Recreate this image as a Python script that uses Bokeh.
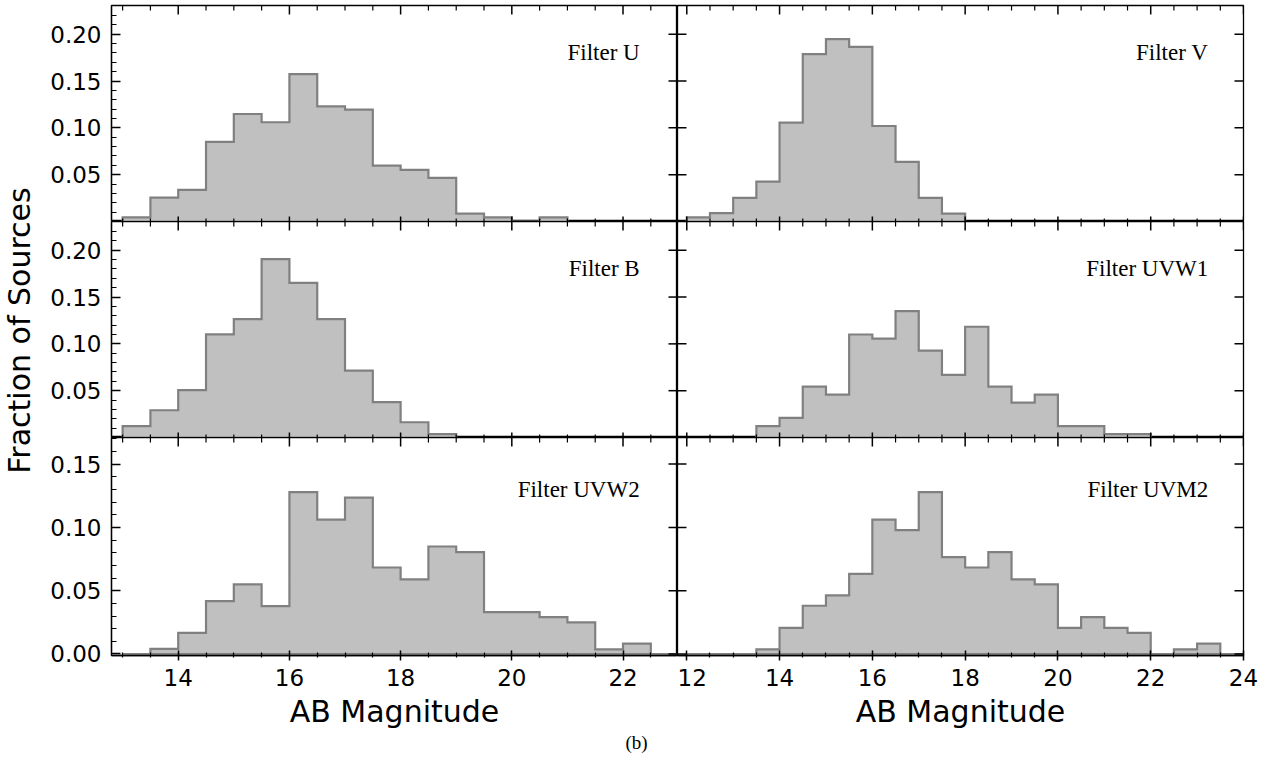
import math
import numpy as np
from bokeh.plotting import figure
from bokeh.layouts import gridplot, row, column
from bokeh.models import Range1d, FixedTicker, PrintfTickFormatter, Label
from bokeh.embed import file_html
from bokeh.resources import INLINE

# ---------------- data (fraction of sources per 0.5 mag bin) ----------------
BIN_WIDTH = 0.5

u_name = "Filter U"
u_first_edge = 13.0
u_frac = [0.0043, 0.0256, 0.0338, 0.085, 0.1148, 0.106, 0.1574, 0.123, 0.1194,
          0.0597, 0.0551, 0.0466, 0.0085, 0.0043, 0.0, 0.0043]

v_name = "Filter V"
v_first_edge = 12.0
v_frac = [0.0043, 0.0089, 0.0252, 0.0426, 0.1055, 0.1787, 0.1947, 0.1866, 0.102,
          0.0636, 0.0252, 0.0085]

b_name = "Filter B"
b_first_edge = 13.0
b_frac = [0.0121, 0.0291, 0.0505, 0.1102, 0.1265, 0.1905, 0.1652, 0.1265, 0.0714,
          0.0377, 0.0163, 0.0036]

uvw1_name = "Filter UVW1"
uvw1_first_edge = 13.5
uvw1_frac = [0.0121, 0.021, 0.0544, 0.0458, 0.110, 0.1055, 0.135, 0.0928, 0.0668,
             0.1183, 0.0544, 0.0373, 0.0458, 0.0121, 0.0121, 0.0036, 0.0036]

uvw2_name = "Filter UVW2"
uvw2_first_edge = 13.0
uvw2_frac = [0.0, 0.004, 0.0167, 0.0418, 0.055, 0.0378, 0.1278, 0.1061, 0.1235,
             0.0683, 0.059, 0.0849, 0.0804, 0.0331, 0.0331, 0.0291, 0.0249, 0.0037,
             0.0082, 0.0]

uvm2_name = "Filter UVM2"
uvm2_first_edge = 12.0
uvm2_frac = [0.0, 0.0, 0.0, 0.0037, 0.0206, 0.0381, 0.0463, 0.0632, 0.1061, 0.0979,
             0.1278, 0.0765, 0.0683, 0.0804, 0.059, 0.055, 0.0206, 0.0291, 0.0206,
             0.0167, 0.0, 0.0037, 0.0082, 0.0]

left_x_major = [14, 16, 18, 20, 22]
left_x_minor = [13.0, 13.5, 14.5, 15.0, 15.5, 16.5, 17.0, 17.5, 18.5, 19.0, 19.5,
                20.5, 21.0, 21.5, 22.5]
right_x_major = [12, 14, 16, 18, 20, 22, 24]
right_x_minor = [12.5, 13.0, 13.5, 14.5, 15.0, 15.5, 16.5, 17.0, 17.5, 18.5, 19.0,
                 19.5, 20.5, 21.0, 21.5, 22.5, 23.0, 23.5]
upper_y_major = [0.05, 0.10, 0.15, 0.20]
upper_y_minor = [0.01, 0.02, 0.03, 0.04, 0.06, 0.07, 0.08, 0.09, 0.11, 0.12, 0.13,
                 0.14, 0.16, 0.17, 0.18, 0.19, 0.21, 0.22]
lower_y_major = [0.00, 0.05, 0.10, 0.15]
lower_y_minor = [0.01, 0.02, 0.03, 0.04, 0.06, 0.07, 0.08, 0.09, 0.11, 0.12, 0.13,
                 0.14, 0.16, 0.17]

x_label = "AB Magnitude"
y_label = "Fraction of Sources"
caption = "(b)"

# ---------------- styling ----------------
FILL = "#c0c0c0"
EDGE = "#808080"
SANS = "DejaVu Sans"
SERIF = "Liberation Serif"
TICK_FONT = "23px"
LABEL_FONT = "30px"

LEFT_X = (12.8, 22.98)
RIGHT_X = (11.8, 24.0)
UPPER_Y = (0.0, 0.2307)
LOWER_Y = (-0.0012, 0.171)

YLAB_W = 40
GRID_H = 731
CAP_H = 758 - GRID_H


def style_axis(ax, ticks, minors, major_in, major_out, minor_in, minor_out, fmt=None,
               standoff=8):
    ax.ticker = FixedTicker(ticks=ticks, minor_ticks=minors)
    ax.axis_line_color = "black"
    ax.axis_line_width = 1.3
    ax.major_tick_line_color = "black"
    ax.major_tick_line_width = 1.5
    ax.minor_tick_line_color = "black"
    ax.minor_tick_line_width = 1.2
    ax.major_tick_in = major_in
    ax.major_tick_out = major_out
    ax.minor_tick_in = minor_in
    ax.minor_tick_out = minor_out
    if fmt is not None:
        ax.formatter = fmt
    ax.major_label_text_font = SANS
    ax.major_label_text_font_size = TICK_FONT
    ax.major_label_text_color = "black"
    ax.major_label_standoff = standoff


def edge_ticks(p, positions, along, at, angle, length, width):
    """Inward tick marks on an unlabelled side of the frame."""
    if not positions:
        return
    if along == "x":
        xs, ys = list(positions), [at] * len(positions)
    else:
        xs, ys = [at] * len(positions), list(positions)
    p.ray(x=xs, y=ys, length=length, length_units="screen", angle=angle,
          line_color="black", line_width=width)


def make_panel(col, rw, name, first_edge, frac):
    left = col == 0
    bottom_row = rw == 2
    xr = LEFT_X if left else RIGHT_X
    yr = LOWER_Y if bottom_row else UPPER_Y
    width = 637 if left else 595
    height = {0: 221, 1: 216, 2: GRID_H - 437}[rw]
    p = figure(width=width, height=height, output_backend="svg", toolbar_location=None,
               x_range=Range1d(*xr), y_range=Range1d(*yr))
    p.min_border = 0
    p.min_border_left = 71 if left else 0
    p.min_border_right = 0 if left else 29
    p.min_border_top = 5 if rw == 0 else 0
    p.min_border_bottom = (GRID_H - 437 - 218) if bottom_row else 0
    p.grid.visible = False
    p.outline_line_color = "black"
    p.outline_line_width = 1.3
    p.background_fill_color = "white"
    p.border_fill_color = "white"

    # histogram (stepfilled outline built from the bin edges)
    n = len(frac)
    edges = first_edge + BIN_WIDTH * np.arange(n + 1)
    xs = [edges[0]]
    ys = [0.0]
    for i in range(n):
        xs += [edges[i], edges[i + 1]]
        ys += [frac[i], frac[i]]
    xs.append(edges[-1])
    ys.append(0.0)
    p.patch(xs, ys, fill_color=FILL, line_color=EDGE, line_width=2.2, line_join="miter")

    xt = left_x_major if left else right_x_major
    xm = left_x_minor if left else right_x_minor
    yt = lower_y_major if bottom_row else upper_y_major
    ym = lower_y_minor if bottom_row else upper_y_minor

    # bottom side
    if bottom_row:
        ax = p.xaxis[0]
        style_axis(ax, xt, xm, 5, 5, 3, 2, standoff=8)
        ax.axis_label = x_label
        ax.axis_label_text_font = SANS
        ax.axis_label_text_font_size = LABEL_FONT
        ax.axis_label_text_font_style = "normal"
        ax.axis_label_text_color = "black"
        ax.axis_label_standoff = 5
    else:
        p.xaxis.visible = False
        edge_ticks(p, xt, "x", yr[0], math.pi / 2, 5, 1.5)
        edge_ticks(p, xm, "x", yr[0], math.pi / 2, 3, 1.2)
    # left side
    if left:
        style_axis(p.yaxis[0], yt, ym, 9, 0, 5, 0,
                   fmt=PrintfTickFormatter(format="%.2f"), standoff=10)
    else:
        p.yaxis.visible = False
        edge_ticks(p, yt, "y", xr[0], 0.0, 9, 1.5)
    # top side
    edge_ticks(p, xt, "x", yr[1], -math.pi / 2, 9, 1.5)
    edge_ticks(p, xm, "x", yr[1], -math.pi / 2, 5, 1.2)
    # right side
    edge_ticks(p, yt, "y", xr[1], math.pi, 9, 1.5)

    # filter name
    lx = 22.30 if left else 23.24
    ly = 0.13 if bottom_row else 0.18
    p.add_layout(Label(x=lx, y=ly, text=name, text_align="right", text_baseline="alphabetic",
                       text_font=SERIF, text_font_size="23px", text_color="black"))
    return p


def text_strip(width, height, text, tx, ty, angle, font, size):
    f = figure(width=width, height=height, output_backend="svg", toolbar_location=None,
               x_range=Range1d(0, width), y_range=Range1d(0, height))
    f.min_border = 0
    f.axis.visible = False
    f.grid.visible = False
    f.outline_line_color = None
    f.background_fill_color = "white"
    f.border_fill_color = "white"
    f.add_layout(Label(x=tx, y=ty, text=text, angle=angle, text_align="center",
                       text_baseline="middle", text_font=font, text_font_size=size,
                       text_color="black"))
    return f


tl = make_panel(0, 0, u_name, u_first_edge, u_frac)
tr = make_panel(1, 0, v_name, v_first_edge, v_frac)
ml = make_panel(0, 1, b_name, b_first_edge, b_frac)
mr = make_panel(1, 1, uvw1_name, uvw1_first_edge, uvw1_frac)
bl = make_panel(0, 2, uvw2_name, uvw2_first_edge, uvw2_frac)
br = make_panel(1, 2, uvm2_name, uvm2_first_edge, uvm2_frac)

grid = gridplot([[tl, tr], [ml, mr], [bl, br]], toolbar_location=None)

ylab = text_strip(YLAB_W, GRID_H, y_label, 19, GRID_H - 330, math.pi / 2, SANS, LABEL_FONT)
cap = text_strip(1272, CAP_H, caption, 636, CAP_H - (742 - GRID_H), 0, SERIF, "19px")

layout = column(row(ylab, grid), cap)

open("out.html", "w").write(file_html(layout, INLINE))
